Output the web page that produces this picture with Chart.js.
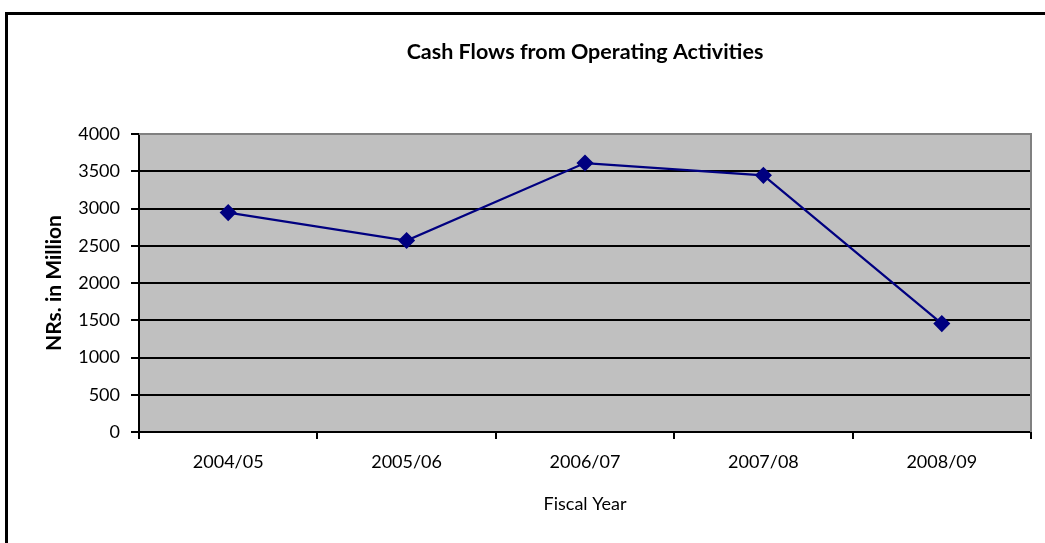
<!DOCTYPE html>
<html>
<head>
<meta charset="utf-8">
<script src="https://cdn.jsdelivr.net/npm/chart.js@4/dist/chart.umd.min.js"></script>
<style>
  html, body { margin: 0; padding: 0; background: #fff; }
  #wrap { width: 1045px; height: 543px; position: relative; }
</style>
</head>
<body>
<div id="wrap"><canvas id="chart" width="1045" height="543"></canvas></div>
<script>
const years = ["2004/05", "2005/06", "2006/07", "2007/08", "2008/09"];
const cashFlows = [2945, 2570, 3610, 3445, 1455];
const yTicks = [0, 500, 1000, 1500, 2000, 2500, 3000, 3500, 4000];

const FONT = "Lato, 'Open Sans', sans-serif";

/* plot area fill + outer frame */
const framePlugin = {
  id: "frame",
  beforeDraw(chart) {
    const { ctx, chartArea: a } = chart;
    ctx.save();
    ctx.fillStyle = "#c0c0c0";
    ctx.fillRect(a.left, a.top, a.right - a.left, a.bottom - a.top);
    // outer chart border (left + top only visible)
    ctx.fillStyle = "#000";
    ctx.fillRect(5, 12, 1045, 3);
    ctx.fillRect(5, 12, 3, 543);
    ctx.restore();
  },
  afterDraw(chart) {
    const { ctx, chartArea: a } = chart;
    ctx.save();
    ctx.strokeStyle = "#808080";
    ctx.lineWidth = 2;
    ctx.beginPath();
    ctx.moveTo(a.left, a.top);
    ctx.lineTo(a.right, a.top);
    ctx.lineTo(a.right, a.bottom);
    ctx.stroke();
    ctx.restore();
  },
};

new Chart(document.getElementById("chart"), {
  type: "line",
  data: {
    labels: years,
    datasets: [
      {
        data: cashFlows,
        borderColor: "#000080",
        backgroundColor: "#000080",
        borderWidth: 2.2,
        pointStyle: "rectRot",
        pointRadius: 7,
        pointHoverRadius: 7,
        tension: 0,
      },
    ],
  },
  options: {
    responsive: false,
    animation: false,
    layout: { padding: { left: 0, right: 14, top: 0, bottom: 0 } },
    plugins: {
      legend: { display: false },
      tooltip: { enabled: false },
      title: {
        display: true,
        fullSize: false,
        text: "Cash Flows from Operating Activities",
        color: "#000",
        font: { family: FONT, size: 21.5, weight: "bold" },
        padding: { top: 39, bottom: 69.2 },
      },
    },
    scales: {
      x: {
        offset: true,
        grid: {
          offset: true,
          drawOnChartArea: false,
          color: "#000",
          tickColor: "#000",
          tickLength: 7,
          lineWidth: 2,
        },
        border: { color: "#000", width: 2 },
        ticks: {
          color: "#000",
          font: { family: FONT, size: 18 },
          padding: 12,
          maxRotation: 0,
        },
        title: {
          display: true,
          text: "Fiscal Year",
          color: "#000",
          font: { family: FONT, size: 18 },
          padding: { top: 0, bottom: 28 },
        },
        afterFit(scale) {
          scale.height = 111;
        },
      },
      y: {
        min: 0,
        max: 4000,
        afterBuildTicks(scale) {
          scale.ticks = yTicks.map((v) => ({ value: v }));
        },
        grid: {
          color: (c) => (c.tick && c.tick.value === 4000 ? "#808080" : "#000"),
          tickColor: "#000",
          tickLength: 8,
          lineWidth: 2,
        },
        border: { color: "#000", width: 2 },
        ticks: {
          color: "#000",
          font: { family: FONT, size: 18 },
          padding: 11,
          callback: (v) => String(v),
        },
        title: {
          display: true,
          text: "NRs. in Million",
          color: "#000",
          font: { family: FONT, size: 21, weight: "bold" },
          padding: { top: 42, bottom: 0 },
        },
        afterFit(scale) {
          scale.width = 139;
        },
      },
    },
  },
  plugins: [framePlugin],
});
</script>
</body>
</html>
